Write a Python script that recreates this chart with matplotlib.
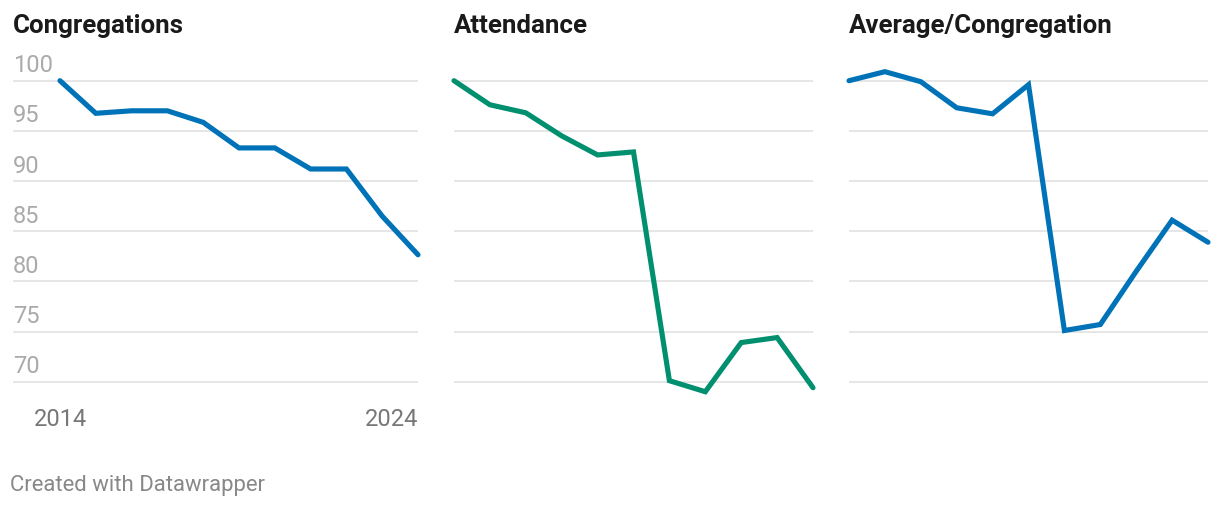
import matplotlib
matplotlib.use("Agg")
import matplotlib.pyplot as plt

years = list(range(2014, 2025))
congregations = [100, 96.75, 97.0, 97.0, 95.85, 93.3, 93.3, 91.2, 91.2, 86.5, 82.65]
attendance = [100, 97.6, 96.8, 94.5, 92.6, 92.9, 70.1, 69.0, 73.9, 74.4, 69.4]
average = [100, 100.9, 99.9, 97.3, 96.7, 99.6, 75.1, 75.7, 81.0, 86.1, 83.9]
titles = ["Congregations", "Attendance", "Average/Congregation"]
colors = ["#0072b8", "#00906f", "#0072b8"]
y_ticks = [70, 75, 80, 85, 90, 95, 100]

plt.rcParams["font.family"] = ["Roboto", "DejaVu Sans"]

W, H = 1220, 510
fig = plt.figure(figsize=(W / 100, H / 100), dpi=100)

# pixel geometry of the panels (left, right of plot area, x of first year)
panels = [(13, 418, 60), (454, 813, 454), (849, 1208, 849)]
top_px, bottom_px = 62, 400
y100_px, y70_px = 81.7, 382.7
ppu = (y70_px - y100_px) / 30
ylim = (70 - (bottom_px - y70_px) / ppu, 100 + (y100_px - top_px) / ppu)

series = [congregations, attendance, average]
for i, (left, right, x0) in enumerate(panels):
    ax = fig.add_axes([left / W, 1 - bottom_px / H, (right - left) / W,
                       (bottom_px - top_px) / H])
    ppy = (right - x0) / 10
    ax.set_xlim(2014 - (x0 - left) / ppy, 2024)
    ax.set_ylim(*ylim)
    for t in y_ticks:
        ax.axhline(t, color="#e2e2e2", lw=1.2, zorder=1)
    ax.plot(years, series[i], color=colors[i], lw=3.7, solid_capstyle="round",
            solid_joinstyle="miter", clip_on=False, zorder=3)
    for s in ax.spines.values():
        s.set_visible(False)
    ax.set_xticks([])
    ax.set_yticks([])

    fig.text(left / W, 1 - 26 / H, titles[i], fontsize=18.6, fontweight="bold",
             color="#1a1a1a", ha="left", va="center")

    if i == 0:
        for t in y_ticks:
            ax.annotate(str(t), xy=(0, t), xycoords=ax.get_yaxis_transform(),
                        xytext=(0, 11.5), textcoords="offset points",
                        fontsize=17, color="#aaaaaa", ha="left", va="center")
        ax.annotate("2014", xy=(2014, ylim[0]), xycoords="data",
                    xytext=(0, -14), textcoords="offset points",
                    fontsize=17, color="#777777", ha="center", va="center")
        ax.annotate("2024", xy=(2024, ylim[0]), xycoords="data",
                    xytext=(0, -14), textcoords="offset points",
                    fontsize=17, color="#777777", ha="right", va="center")

fig.text(10 / W, 1 - 486 / H, "Created with Datawrapper", fontsize=15.9,
         color="#888888", ha="left", va="center")

fig.savefig("out.png", dpi=100, facecolor="white")
